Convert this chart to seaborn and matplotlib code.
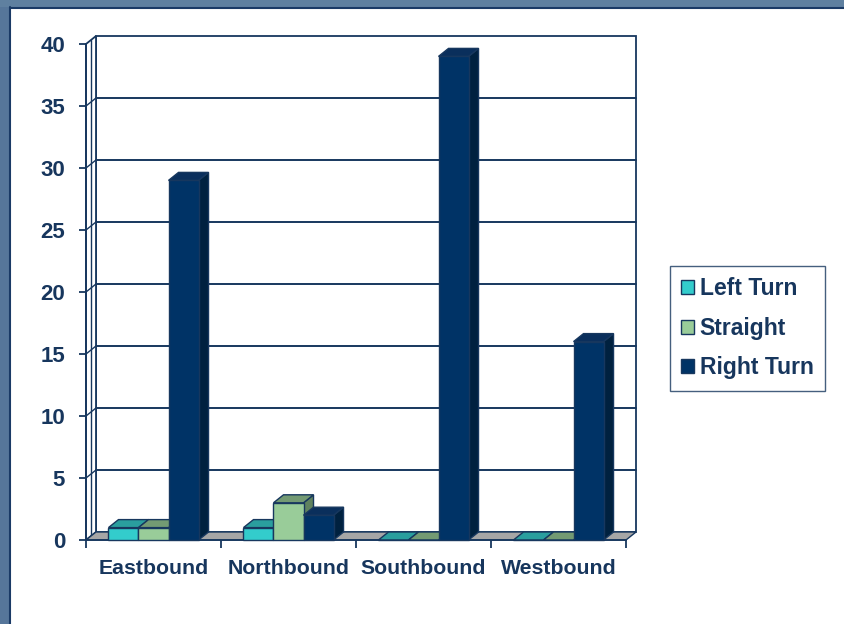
import numpy as np
import pandas as pd
import matplotlib
matplotlib.use("Agg")
import matplotlib.pyplot as plt
import seaborn as sns
from matplotlib.patches import Polygon, Rectangle, Patch

# ---- data ----
directions = ["Eastbound", "Northbound", "Southbound", "Westbound"]
movements = ["Left Turn", "Straight", "Right Turn"]
left_turn = [1, 1, 0, 0]
straight = [1, 3, 0, 0]
right_turn = [29, 2, 39, 16]
y_ticks = [0, 5, 10, 15, 20, 25, 30, 35, 40]

front_cols = {"Left Turn": "#33CCCC", "Straight": "#99CC99", "Right Turn": "#003366"}
top_cols = {"Left Turn": "#2A9E9E", "Straight": "#739A73", "Right Turn": "#0A2F5C"}
side_cols = {"Left Turn": "#238585", "Straight": "#5F825F", "Right Turn": "#00213F"}
NAVY = "#17365D"
EDGE = "#17375E"

df = pd.DataFrame({
    "Direction": directions * 3,
    "Movement": [m for m in movements for _ in directions],
    "Count": left_turn + straight + right_turn,
})

sns.set_theme(style="white")
plt.rcParams["font.family"] = ["Liberation Sans", "DejaVu Sans"]

W, H = 845, 624
fig = plt.figure(figsize=(W / 100, H / 100), dpi=100, facecolor="white")

# slide frame (left and top strips)
fig.patches.append(Rectangle((0, 0), 10 / W, 1, transform=fig.transFigure,
                             facecolor="#56769A", edgecolor="none", zorder=0))
fig.patches.append(Rectangle((0, 1 - 7 / H), 1, 7 / H, transform=fig.transFigure,
                             facecolor="#5F80A0", edgecolor="none", zorder=0))
fig.lines.append(plt.Line2D([10.5 / W, 10.5 / W], [0, 1 - 7 / H], transform=fig.transFigure,
                            color="#1A3A66", lw=1.5))
fig.lines.append(plt.Line2D([10 / W, 1], [1 - 7.5 / H, 1 - 7.5 / H], transform=fig.transFigure,
                            color="#1A3A66", lw=1.5))

x0, x1 = 86, 626
yb, yt = 540, 44
ax = fig.add_axes([x0 / W, (H - yb) / H, (x1 - x0) / W, (yb - yt) / H])
ax.set_facecolor("none")

sns.barplot(data=df, x="Direction", y="Count", hue="Movement", order=directions,
            hue_order=movements, palette=front_cols, width=0.667, legend=False,
            edgecolor=EDGE, linewidth=1.0, saturation=1, ax=ax)

ax.set_xlim(-0.5, 3.5)
ax.set_ylim(0, 40)

# 3D offsets in data units
px_x = (x1 - x0) / 4.0
px_y = (yb - yt) / 40.0
dx = 10 / px_x
dy = 8 / px_y

# back wall, left wall, floor
ax.add_patch(Polygon([(-0.5 + dx, dy), (3.5 + dx, dy), (3.5 + dx, 40 + dy), (-0.5 + dx, 40 + dy)],
                     closed=True, facecolor="white", edgecolor=EDGE, lw=1.3, zorder=0.5, clip_on=False))
ax.add_patch(Polygon([(-0.5, 0), (-0.5 + dx, dy), (-0.5 + dx, 40 + dy), (-0.5, 40)],
                     closed=True, facecolor="white", edgecolor=EDGE, lw=1.3, zorder=0.6, clip_on=False))
ax.plot([-0.5 + dx * 0.5, -0.5 + dx * 0.5], [dy * 0.5, 40 + dy * 0.5], color=EDGE, lw=1.0,
        zorder=0.65, clip_on=False)
for t in y_ticks[1:-1]:
    ax.plot([-0.5 + dx, 3.5 + dx], [t + dy, t + dy], color=EDGE, lw=1.4, zorder=0.7, clip_on=False)
    ax.plot([-0.5, -0.5 + dx], [t, t + dy], color=EDGE, lw=1.0, zorder=0.7, clip_on=False)
ax.add_patch(Polygon([(-0.5, 0), (3.5, 0), (3.5 + dx, dy), (-0.5 + dx, dy)],
                     closed=True, facecolor="#A6A6A6", edgecolor=EDGE, lw=1.0, zorder=0.8, clip_on=False))

# 3D bar faces
bars = sorted([p for p in ax.patches if isinstance(p, Rectangle) and p.get_width() < 1],
              key=lambda p: p.get_x())
z = 2.0
for p in bars:
    x, w, h = p.get_x(), p.get_width(), p.get_height()
    fc = matplotlib.colors.to_hex(p.get_facecolor())
    key = [k for k, v in front_cols.items() if v.lower() == fc.lower()][0]
    side = Polygon([(x + w, 0), (x + w + dx, dy), (x + w + dx, h + dy), (x + w, h)], closed=True,
                   facecolor=side_cols[key], edgecolor=EDGE, lw=1.0, zorder=z, clip_on=False)
    top = Polygon([(x, h), (x + w, h), (x + w + dx, h + dy), (x + dx, h + dy)], closed=True,
                  facecolor=top_cols[key], edgecolor=EDGE, lw=1.0, zorder=z + 0.1, clip_on=False)
    ax.add_patch(side)
    ax.add_patch(top)
    p.set_zorder(z + 0.2)
    p.set_clip_on(False)
    z += 1

for s in ax.spines.values():
    s.set_visible(False)
ax.plot([-0.5, -0.5], [0, 40], color=EDGE, lw=1.3, zorder=0.9, clip_on=False)
ax.plot([-0.5, 3.5], [0, 0], color=EDGE, lw=1.3, zorder=0.9, clip_on=False)

ax.set_yticks(y_ticks)
ax.set_yticklabels([str(t) for t in y_ticks])
ax.tick_params(axis="y", which="major", left=True, length=5, width=1.3, color=EDGE,
               pad=10, labelsize=16, labelcolor=NAVY)
ax.set_xticks(range(4))
ax.set_xticklabels(directions)
ax.set_xticks([-0.5, 0.5, 1.5, 2.5, 3.5], minor=True)
ax.tick_params(axis="x", which="major", length=0, pad=14, labelsize=15.3, labelcolor=NAVY)
ax.tick_params(axis="x", which="minor", bottom=True, length=6, width=1.3, color=EDGE)
for lab in ax.get_xticklabels() + ax.get_yticklabels():
    lab.set_fontweight("bold")
ax.set_xlabel("")
ax.set_ylabel("")
ax.grid(False)

handles = [Patch(facecolor=front_cols[m], edgecolor=EDGE, label=m) for m in movements]
leg = fig.legend(handles=handles, loc="upper left",
                 bbox_to_anchor=(670 / W, 1 - 266 / H), frameon=True, fancybox=False,
                 handlelength=0.55, handleheight=0.55, handletextpad=0.25,
                 labelspacing=0.72, borderpad=0.5, borderaxespad=0,
                 prop={"weight": "bold", "size": 16.5})
leg.get_frame().set_edgecolor(EDGE)
leg.get_frame().set_linewidth(1.0)
for t in leg.get_texts():
    t.set_color(NAVY)

fig.savefig("out.png", dpi=100, facecolor="white")
